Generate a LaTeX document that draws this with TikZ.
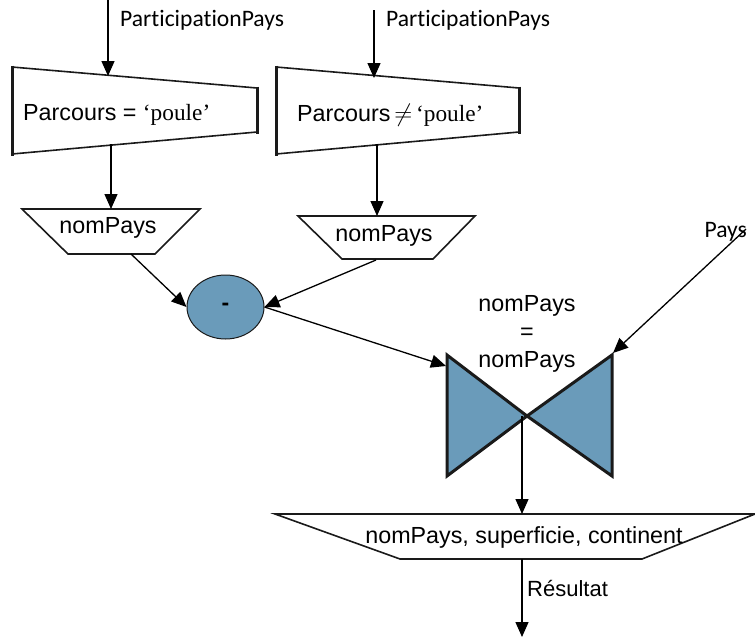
\documentclass[tikz,border=0pt]{standalone}
\usepackage{fontspec}
\setmainfont{Liberation Sans}
\newfontfamily\calib[Ligatures=NoCommon]{Carlito}
\newfontfamily\tms{Liberation Serif}
\usetikzlibrary{arrows.meta,shapes.geometric}
\definecolor{opblue}{HTML}{6A9BBA}
\definecolor{edge}{HTML}{1A1A1A}
\tikzset{
  conn/.style={draw=black,line width=1.3pt,-{Triangle[length=15pt,width=13pt]}},
  boxthin/.style={draw=edge,line width=1.6pt,fill=white,line join=miter},
  boxside/.style={draw=edge,line width=3pt},
  opshape/.style={draw=edge,line width=3pt,fill=opblue,line join=miter},
  lbl/.style={inner sep=0pt,font=\fontsize{23.3}{27}\selectfont},
  clbl/.style={inner sep=0pt,font=\calib\fontsize{23.6}{27}\selectfont},
}
\begin{document}
\begin{tikzpicture}[x=1pt,y=-1pt]
\useasboundingbox (0,0) rectangle (755,638);
% coordinates for free ends
\coordinate (in1) at (108,0);
\coordinate (in2) at (374,10);
\coordinate (inP) at (746,229);
\coordinate (out) at (522,637);
% selection 1
\draw[boxthin] (12,67) -- (257,88) -- (257,132) -- (12,154) -- cycle;
\draw[boxside] (12,65.5) -- (12,155.5);
\draw[boxside] (257,86.5) -- (257,133.5);
\node[lbl,anchor=west] (sel1) at (23,115) {Parcours = {\tms ‘poule’}};
\coordinate (sel1top) at (108,76);
\coordinate (sel1bot) at (111,144);
% selection 2
\draw[boxthin] (276,67) -- (519,88) -- (519,132) -- (276,154) -- cycle;
\draw[boxside] (276,65.5) -- (276,155.5);
\draw[boxside] (519,86.5) -- (519,133.5);
\node[lbl,anchor=west] (sel2) at (297,115) {Parcours\,$\neq$\,{\tms ‘poule’}};
\coordinate (sel2top) at (374,78);
\coordinate (sel2bot) at (377,144);
% projection 1
\draw[boxthin] (22,209) -- (200,209) -- (155,254) -- (68,254) -- cycle;
\node[lbl] (proj1) at (108,228) {nomPays};
\coordinate (proj1top) at (111,209);
\coordinate (proj1bot) at (131,254);
% projection 2
\draw[boxthin] (298,216) -- (475,216) -- (433,259) -- (342,259) -- cycle;
\node[lbl] (proj2) at (384,236) {nomPays};
\coordinate (proj2top) at (377,216);
\coordinate (proj2bot) at (376,260);
% difference
\node[draw=edge,line width=1pt,fill=opblue,ellipse,minimum width=77pt,minimum height=64pt,inner sep=0pt,font=\bfseries\fontsize{23}{27}\selectfont] (diff) at (225.5,307) {-};
% join
\draw[opshape] (447,355) -- (527,416) -- (447,476) -- cycle;
\draw[opshape] (612,355) -- (527,416) -- (612,476) -- cycle;
\coordinate (joinL) at (446,366);
\coordinate (joinR) at (613,353);
\coordinate (joinC) at (522,416);
\node[lbl,align=center,font=\fontsize{23.3}{28}\selectfont] (jcond) at (527,334) {nomPays\\=\\nomPays};
% final projection
\draw[boxthin] (275,514) -- (755,514) -- (642,559) -- (400,559) -- cycle;
\node[lbl] (proj3) at (524,537) {nomPays, superficie, continent};
\coordinate (proj3top) at (522,514);
\coordinate (proj3bot) at (522,559);
% labels
\node[clbl,anchor=west] (lp1) at (120,20) {ParticipationPays};
\node[clbl,anchor=west] (lp2) at (386,20) {ParticipationPays};
\node[clbl,anchor=east] (lpays) at (747,232) {Pays};
\node[lbl,anchor=west,font=\fontsize{22}{27}\selectfont] (lres) at (527,588) {Résultat};
% connectors
\draw[conn] (in1) -- (sel1top);
\draw[conn] (in2) -- (sel2top);
\draw[conn] (sel1bot) -- (proj1top);
\draw[conn] (sel2bot) -- (proj2top);
\draw[conn] (proj1bot) -- (diff.west);
\draw[conn] (proj2bot) -- (diff.east);
\draw[conn] (diff.east) -- (joinL);
\draw[conn] (inP) -- (joinR);
\draw[conn] (joinC) -- (proj3top);
\draw[conn] (proj3bot) -- (out);
\end{tikzpicture}
\end{document}
